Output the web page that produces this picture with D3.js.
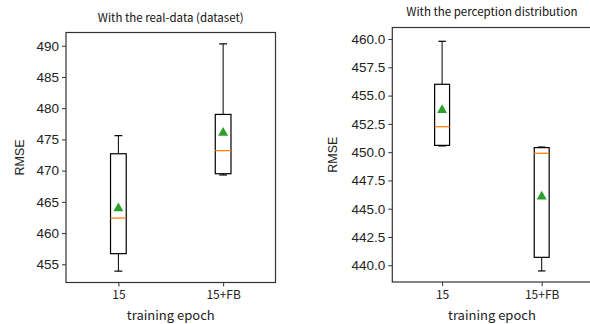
<!DOCTYPE html>
<html><head><meta charset="utf-8">
<script src="https://cdn.jsdelivr.net/npm/d3@7"></script>
<style>body{margin:0;background:#fff}svg{display:block}</style>
</head><body>
<svg id="c" width="590" height="324"></svg>
<script>
const categories = ["15", "15+FB"];
const realWhiskerLow = [453.9, 469.3];
const realQ1 = [456.7, 469.5];
const realMedian = [462.4, 473.2];
const realQ3 = [472.7, 479.0];
const realWhiskerHigh = [475.6, 490.3];
const realMean = [464.1, 476.2];
const realTicks = [455, 460, 465, 470, 475, 480, 485, 490];

const percWhiskerLow = [450.55, 439.5];
const percQ1 = [450.6, 440.7];
const percMedian = [452.25, 449.9];
const percQ3 = [456.0, 450.4];
const percWhiskerHigh = [459.8, 450.45];
const percMean = [453.8, 446.15];
const percTicks = [440.0, 442.5, 445.0, 447.5, 450.0, 452.5, 455.0, 457.5, 460.0];

const svg = d3.select("#c");
const tickFont = "'Liberation Sans', Arial, sans-serif";
const jpFont = "'Noto Sans CJK JP', 'Noto Sans', sans-serif";

function panel(o) {
  const g = svg.append("g");
  const x = d3.scaleLinear().domain([0.5, 2.5]).range([o.left, o.right]);
  const y = d3.scaleLinear().domain(o.domain).range([o.bottom, o.top]);
  const rows = categories.map((c, i) => ({
    c, pos: i + 1,
    lo: o.lo[i], q1: o.q1[i], med: o.med[i], q3: o.q3[i], hi: o.hi[i], mean: o.mean[i]
  }));
  const hw = 0.075;
  const capw = 0.0375;
  const stroke = "#000";
  rows.forEach(d => {
    g.append("line").attr("x1", x(d.pos)).attr("x2", x(d.pos)).attr("y1", y(d.q3)).attr("y2", y(d.hi)).attr("stroke", stroke).attr("stroke-width", 1);
    g.append("line").attr("x1", x(d.pos)).attr("x2", x(d.pos)).attr("y1", y(d.q1)).attr("y2", y(d.lo)).attr("stroke", stroke).attr("stroke-width", 1);
    g.append("line").attr("x1", x(d.pos - capw)).attr("x2", x(d.pos + capw)).attr("y1", y(d.hi)).attr("y2", y(d.hi)).attr("stroke", stroke).attr("stroke-width", 1.2);
    g.append("line").attr("x1", x(d.pos - capw)).attr("x2", x(d.pos + capw)).attr("y1", y(d.lo)).attr("y2", y(d.lo)).attr("stroke", stroke).attr("stroke-width", 1.2);
    g.append("rect").attr("x", x(d.pos - hw)).attr("width", x(d.pos + hw) - x(d.pos - hw))
      .attr("y", y(d.q3)).attr("height", y(d.q1) - y(d.q3)).attr("fill", "none").attr("stroke", stroke).attr("stroke-width", 1.2);
    g.append("line").attr("x1", x(d.pos - hw)).attr("x2", x(d.pos + hw)).attr("y1", y(d.med)).attr("y2", y(d.med)).attr("stroke", "#ff7f0e").attr("stroke-width", 1.3);
    const mx = x(d.pos), my = y(d.mean), s = 5;
    g.append("path").attr("d", `M${mx},${my - s}L${mx + s},${my + s * 0.75}L${mx - s},${my + s * 0.75}Z`).attr("fill", "#2ca02c");
  });
  const ya = g.append("g").attr("transform", `translate(${o.left},0)`)
    .call(d3.axisLeft(y).tickValues(o.ticks).tickSize(4).tickPadding(3).tickFormat(o.fmt));
  ya.select(".domain").remove();
  ya.selectAll("text").attr("font-family", tickFont).attr("font-size", 13.5).attr("fill", "#222");
  ya.selectAll("line").attr("stroke", "#333");
  const xa = g.append("g").attr("transform", `translate(0,${o.bottom})`)
    .call(d3.axisBottom(x).tickValues([1, 2]).tickSize(4).tickPadding(4).tickFormat(v => categories[v - 1]));
  xa.select(".domain").remove();
  xa.selectAll("text").attr("font-family", jpFont).attr("font-size", 12).attr("fill", "#222");
  xa.selectAll("line").attr("stroke", "#333");
  g.append("rect").attr("x", o.left).attr("y", o.top).attr("width", o.right - o.left).attr("height", o.bottom - o.top)
    .attr("fill", "none").attr("stroke", "#333").attr("stroke-width", 1.2);
  g.append("text").attr("x", (o.left + o.right) / 2).attr("y", o.titleY).attr("text-anchor", "middle")
    .attr("font-family", jpFont).attr("font-size", 11.5).attr("fill", "#111").text(o.title);
  g.append("text").attr("x", (o.left + o.right) / 2).attr("y", 320).attr("text-anchor", "middle")
    .attr("font-family", jpFont).attr("font-size", 13).attr("fill", "#222").text("training epoch");
  g.append("text").attr("transform", `translate(${o.ylabX},${(o.top + o.bottom) / 2}) rotate(-90)`)
    .attr("text-anchor", "middle").attr("font-family", tickFont).attr("font-size", 12.5).attr("fill", "#222").text("RMSE");
}

panel({
  left: 66, right: 275.5, top: 32.5, bottom: 282.5, domain: [452.08, 492.12],
  lo: realWhiskerLow, q1: realQ1, med: realMedian, q3: realQ3, hi: realWhiskerHigh, mean: realMean,
  ticks: realTicks, fmt: d3.format("d"), title: "With the real-data (dataset)", titleY: 22, ylabX: 24
});
panel({
  left: 392.3, right: 591.5, top: 27.5, bottom: 282, domain: [438.52, 461.02],
  lo: percWhiskerLow, q1: percQ1, med: percMedian, q3: percQ3, hi: percWhiskerHigh, mean: percMean,
  ticks: percTicks, fmt: d3.format(".1f"), title: "With the perception distribution", titleY: 16, ylabX: 337
});
</script>
</body></html>
